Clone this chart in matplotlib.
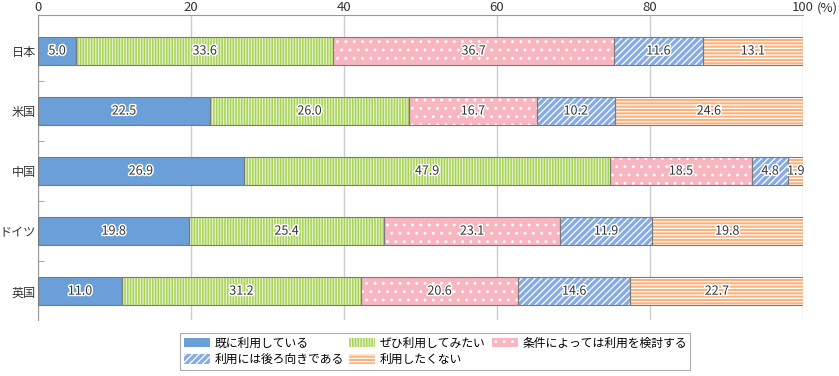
import matplotlib.pyplot as plt
import matplotlib.patheffects as pe
from matplotlib.patches import Patch
import numpy as np

plt.rcParams['font.family'] = ['Noto Sans CJK JP', 'DejaVu Sans']
plt.rcParams['hatch.linewidth'] = 0.9

countries = ['日本', '米国', '中国', 'ドイツ', '英国']
labels = ['既に利用している', 'ぜひ利用してみたい', '条件によっては利用を検討する',
          '利用には後ろ向きである', '利用したくない']
already = [5.0, 22.5, 26.9, 19.8, 11.0]
want = [33.6, 26.0, 47.9, 25.4, 31.2]
conditional = [36.7, 16.7, 18.5, 23.1, 20.6]
negative = [11.6, 10.2, 4.8, 11.9, 14.6]
never = [13.1, 24.6, 1.9, 19.8, 22.7]
series = [already, want, conditional, negative, never]

faces = ['#6A9FD8', '#A8D35A', '#F8B6C1', '#88ACE2', '#F9B27E']
hatchcols = ['#6A9FD8', '#E4F2C6', '#FFFFFF', '#FFFFFF', '#FFFFFF']
hatches = [None, '||||||', '..', '/////', '-----']

fig = plt.figure(figsize=(8.39, 3.76), dpi=100)
ax = fig.add_axes([38/839, 1-320/376, 765/839, 305/376])

y = np.arange(len(countries))
left = np.zeros(len(countries))
for vals, fc, hc, h in zip(series, faces, hatchcols, hatches):
    ax.barh(y, vals, left=left, height=0.47, color=fc, edgecolor=hc,
            hatch=h, linewidth=0, zorder=2)
    ax.barh(y, vals, left=left, height=0.47, fill=False, edgecolor='#7a7a7a',
            linewidth=0.8, zorder=3)
    for yi, l, v in zip(y, left, vals):
        ax.text(l + v/2, yi, f'{v:.1f}', ha='center', va='center', fontsize=9,
                color='#333333', zorder=4,
                path_effects=[pe.withStroke(linewidth=2.2, foreground='white')])
    left += np.array(vals)

ax.set_xlim(0, 100)
ax.set_ylim(4.48, -0.6)
ax.xaxis.tick_top()
ax.set_xticks([0, 20, 40, 60, 80, 100])
ax.set_xticklabels(['0', '20', '40', '60', '80', '100'])
ax.tick_params(axis='x', length=0, labelsize=9.5, colors='#333333', pad=0.5)
ax.annotate('(%)', xy=(100, 1), xycoords=('data', 'axes fraction'),
            xytext=(10, 0.5), textcoords='offset points', fontsize=9.5,
            color='#333333', ha='left', va='bottom')
ax.set_yticks(y)
ax.set_yticklabels(countries)
ax.set_yticks(y[:-1] + 0.5, minor=True)
ax.tick_params(axis='y', which='major', length=0, labelsize=8.7, colors='#333333', pad=1.5)
ax.tick_params(axis='y', which='minor', length=4, direction='in', color='#999999')
ax.grid(axis='x', color='#cccccc', linewidth=1, zorder=0)
ax.set_axisbelow(True)
for s in ['right', 'bottom']:
    ax.spines[s].set_visible(False)
for s in ['left', 'top']:
    ax.spines[s].set_color('#999999')

handles = [Patch(facecolor=fc, edgecolor=hc, hatch=h, linewidth=0)
           for fc, hc, h in zip(faces, hatchcols, hatches)]
order = [0, 3, 1, 4, 2]
leg = fig.legend([handles[i] for i in order], [labels[i] for i in order], ncol=3,
                 loc='upper left', bbox_to_anchor=(180/839, 1-333/376),
                 fontsize=8.5, frameon=True, fancybox=False, edgecolor='#999999',
                 handlelength=2.2, handleheight=0.9, handletextpad=0.4,
                 columnspacing=0.5, labelspacing=0.3, borderpad=0.3,
                 borderaxespad=0)
leg.get_frame().set_linewidth(0.8)

fig.savefig('out.png', dpi=100)
